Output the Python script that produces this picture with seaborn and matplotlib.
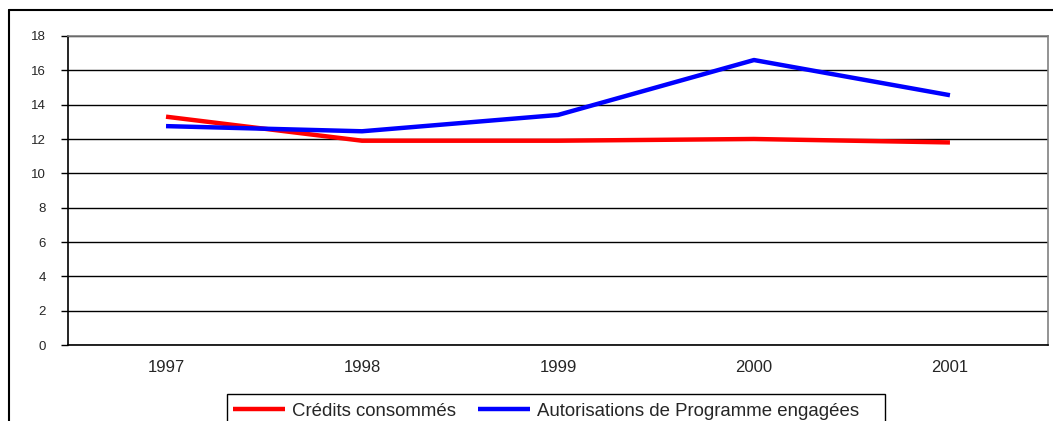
import pandas as pd
import seaborn as sns
import matplotlib.pyplot as plt
from matplotlib.lines import Line2D
from matplotlib.patches import Rectangle

years = ["1997", "1998", "1999", "2000", "2001"]
credits = [13.3, 11.9, 11.9, 12.0, 11.8]
autorisations = [12.75, 12.45, 13.4, 16.6, 14.55]
series_names = ["Crédits consommés", "Autorisations de Programme engagées"]

data = pd.DataFrame({
    "year": list(range(len(years))) * 2,
    "value": credits + autorisations,
    "serie": [series_names[0]] * len(years) + [series_names[1]] * len(years),
})

sns.set_theme(style="white")
plt.rcParams["font.family"] = ["Liberation Sans", "DejaVu Sans"]

fig = plt.figure(figsize=(10.53, 4.21), dpi=100)
ax = fig.add_axes([0.0646, 0.1805, 0.9306, 0.734])

sns.lineplot(data=data, x="year", y="value", hue="serie",
             palette=["#ff0000", "#0000ff"], linewidth=3.2, ax=ax, legend=False)
for line in ax.lines:
    line.set_solid_capstyle("butt")

ax.set_xlim(-0.5, len(years) - 0.5)
ax.set_ylim(0, 18)
ax.set_yticks(range(0, 19, 2))
ax.yaxis.grid(True, color="#000000", linewidth=1)
ax.set_axisbelow(True)
ax.set_xticks([i - 0.5 for i in range(len(years) + 1)])
ax.set_xticklabels([])
ax.set_xticks(range(len(years)), minor=True)
ax.set_xticklabels(years, minor=True, fontsize=12)
ax.tick_params(axis="x", which="major", length=5, width=1, color="black", direction="out")
ax.tick_params(axis="x", which="minor", length=0, pad=11)
ax.tick_params(axis="y", length=5, width=1, color="black", labelsize=9.5, pad=11,
               direction="out", left=True)
ax.set_xlabel("")
ax.set_ylabel("")

for side in ["left", "bottom"]:
    ax.spines[side].set_color("black")
    ax.spines[side].set_linewidth(1.2)
for side in ["top", "right"]:
    ax.spines[side].set_color("#808080")
    ax.spines[side].set_linewidth(1.2)

# legend (frame drawn separately, Excel leaves extra room on the right)
handles = [Line2D([], [], color="#ff0000", linewidth=3.2, solid_capstyle="butt"),
           Line2D([], [], color="#0000ff", linewidth=3.2, solid_capstyle="butt")]
fig.legend(handles, series_names, loc="upper left", bbox_to_anchor=(0.2213, 0.043),
           ncol=2, frameon=False, fontsize=13.4,
           handlelength=2.8, handletextpad=0.35, columnspacing=1.2,
           borderpad=0, borderaxespad=0)
fig.add_artist(Rectangle((227 / 1053, -0.05), 658 / 1053, 0.114, transform=fig.transFigure,
                         fill=False, edgecolor="black", linewidth=1))

# outer chart frame
fig.add_artist(Line2D([0.0085, 0.0085], [0.976, 0.0], color="black", linewidth=1.5))
fig.add_artist(Line2D([0.0085, 1.0], [0.976, 0.976], color="black", linewidth=1.5))

fig.savefig("out.png", dpi=100, facecolor="white")
